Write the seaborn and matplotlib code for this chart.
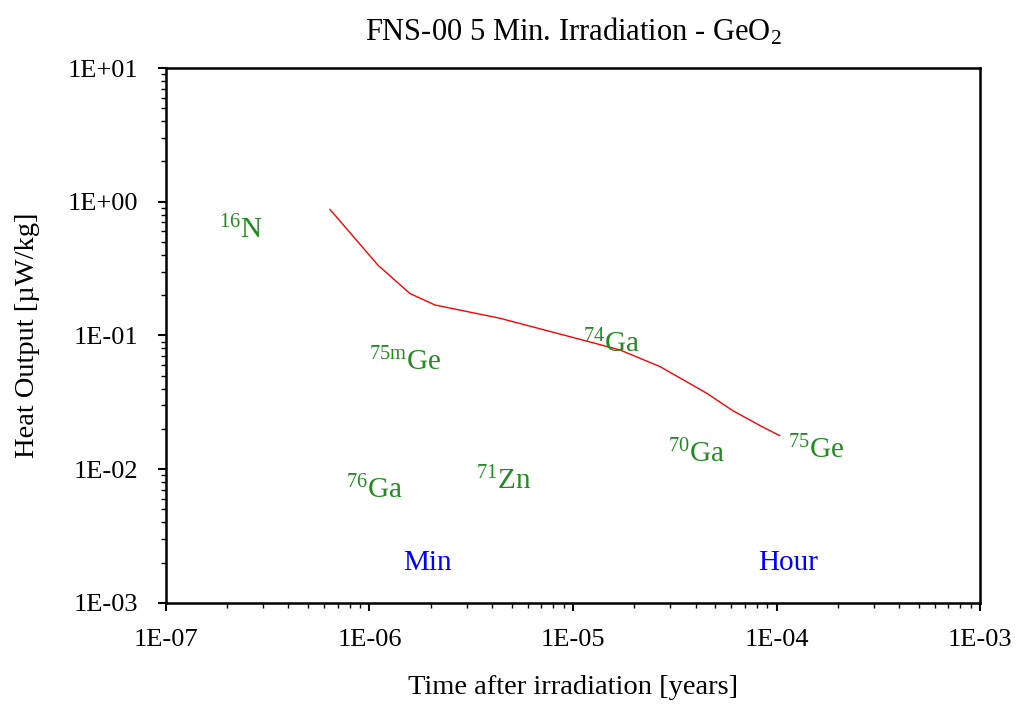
import matplotlib
matplotlib.use("Agg")
import matplotlib.pyplot as plt
import seaborn as sns
import pandas as pd
from matplotlib.ticker import LogLocator, FixedLocator, NullFormatter

# Data
time_years = [6.39e-7, 1.10e-6, 1.58e-6, 2.10e-6, 4.37e-6, 1.08e-5, 1.70e-5,
              2.68e-5, 4.54e-5, 6.1e-5, 8.6e-5, 1.04e-4]
heat_output = [0.878, 0.336, 0.206, 0.169, 0.1346, 0.0937, 0.078,
               0.0585, 0.037, 0.0274, 0.0206, 0.0178]

nuclide_labels = [r"$^{16}\mathrm{N}$", r"$^{\mathrm{75m}}\mathrm{Ge}$", r"$^{76}\mathrm{Ga}$",
                  r"$^{71}\mathrm{Zn}$", r"$^{74}\mathrm{Ga}$", r"$^{70}\mathrm{Ga}$",
                  r"$^{75}\mathrm{Ge}$"]
nuclide_x = [1.82e-7, 1.0e-6, 7.67e-7, 3.33e-6, 1.12e-5, 2.93e-5, 1.14e-4]
nuclide_y = [0.536, 0.0552, 0.0061, 0.00711, 0.0753, 0.01133, 0.01214]

time_marks = ["Min", "Hour"]
time_marks_x = [1.46e-6, 8.11e-5]
time_marks_y = [0.00177, 0.00177]

xtick_vals = [1e-7, 1e-6, 1e-5, 1e-4, 1e-3]
xtick_labels = ["1E-07", "1E-06", "1E-05", "1E-04", "1E-03"]
ytick_vals = [1e-3, 1e-2, 1e-1, 1e0, 1e1]
ytick_labels = ["1E-03", "1E-02", "1E-01", "1E+00", "1E+01"]

sns.set_theme(style="white")
plt.rcParams['font.family'] = ['Liberation Serif', 'DejaVu Serif']
plt.rcParams['mathtext.fontset'] = 'custom'
plt.rcParams['mathtext.rm'] = 'Liberation Serif'
plt.rcParams['mathtext.it'] = 'Liberation Serif:italic'
plt.rcParams['text.color'] = 'black'
plt.rcParams['axes.labelcolor'] = 'black'

fig = plt.figure(figsize=(10.2, 7.04), dpi=100)
ax = fig.add_axes([0.1627, 0.1435, 0.7981, 0.7599])

df = pd.DataFrame({"t": time_years, "h": heat_output})
sns.lineplot(data=df, x="t", y="h", ax=ax, color="#ff0000", linewidth=1.0, sort=False)

ax.set_xscale("log")
ax.set_yscale("log")
ax.set_xlim(1e-7, 1e-3)
ax.set_ylim(1e-3, 1e1)

ax.xaxis.set_major_locator(FixedLocator(xtick_vals))
ax.set_xticklabels(xtick_labels)
ax.yaxis.set_major_locator(FixedLocator(ytick_vals))
ax.set_yticklabels(ytick_labels)
ax.xaxis.set_minor_locator(LogLocator(base=10, subs=range(2, 10), numticks=20))
ax.yaxis.set_minor_locator(LogLocator(base=10, subs=range(2, 10), numticks=20))
ax.xaxis.set_minor_formatter(NullFormatter())
ax.yaxis.set_minor_formatter(NullFormatter())

ax.tick_params(which="major", direction="out", length=6, width=1.5, colors="black",
               labelsize=19, bottom=True, left=True, top=False, right=False)
ax.tick_params(axis="x", which="major", pad=13)
ax.tick_params(axis="y", which="major", pad=14)
ax.tick_params(which="minor", direction="out", length=3.5, width=1.0, colors="black",
               bottom=True, left=True, top=False, right=False)

for sp in ax.spines.values():
    sp.set_color("black")
    sp.set_linewidth(1.8)

ax.set_xlabel("Time after irradiation [years]", fontsize=20.5, labelpad=17, color="black")
ax.set_ylabel("Heat Output [µW/kg]", fontsize=20.5, labelpad=20, color="black")
ax.set_title(r"FNS-00 5 Min. Irradiation - GeO$_2$", fontsize=22, pad=20, color="black")

for lab, x, y in zip(nuclide_labels, nuclide_x, nuclide_y):
    ax.text(x, y, lab, color="#228B22", fontsize=21, ha="left", va="baseline")
for lab, x, y in zip(time_marks, time_marks_x, time_marks_y):
    ax.text(x, y, lab, color="#0000ff", fontsize=21, ha="left", va="baseline")

fig.savefig("out.png", dpi=100)
